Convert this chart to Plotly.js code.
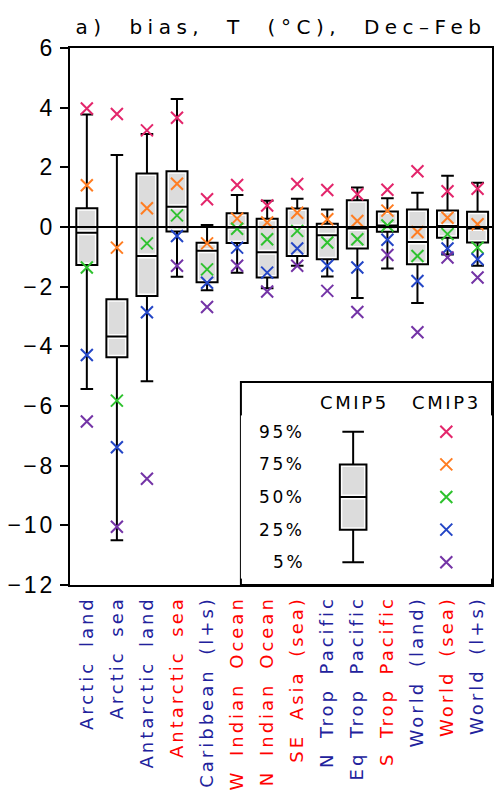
<!DOCTYPE html>
<html>
<head>
<meta charset="utf-8">
<script src="https://cdn.plot.ly/plotly-3.0.1.min.js"></script>
<style>
  html, body { margin: 0; padding: 0; background: #fff; }
  #chart { width: 497px; height: 793px; }
  svg text { letter-spacing: 2.6px; word-spacing: 5px; }
  svg .xtick text { letter-spacing: 3px; word-spacing: 5px; }
  svg .ytick text { letter-spacing: 3px; }
  svg .gtitle { letter-spacing: 5.5px; word-spacing: 11px; }
</style>
</head>
<body>
<div id="chart"></div>
<script>
// ---- Data ----
const categories = ["Arctic land", "Arctic sea", "Antarctic land", "Antarctic sea",
  "Caribbean (l+s)", "W Indian Ocean", "N Indian Ocean", "SE Asia (sea)",
  "N Trop Pacific", "Eq Trop Pacific", "S Trop Pacific", "World (land)",
  "World (sea)", "World (l+s)"];
const redLabel = [0, 0, 0, 1, 0, 1, 1, 1, 0, 0, 1, 0, 1, 0];

// CMIP5 percentiles (box and whiskers)
const cmip5_p95 = [3.77, 2.41, 3.12, 4.29, 0.07, 1.07, 0.88, 0.95, 0.59, 1.32, 0.96, 1.15, 1.72, 1.48];
const cmip5_p75 = [0.63, -2.42, 1.79, 1.87, -0.53, 0.46, 0.28, 0.62, 0.11, 0.90, 0.52, 0.59, 0.55, 0.51];
const cmip5_p50 = [-0.19, -3.67, -0.97, 0.68, -0.80, -0.02, -0.85, 0.00, -0.28, -0.05, 0.05, -0.50, 0.03, -0.05];
const cmip5_p25 = [-1.27, -4.37, -2.31, -0.15, -1.85, -0.54, -1.69, -0.97, -1.08, -0.72, -0.16, -1.25, -0.36, -0.52];
const cmip5_p5  = [-5.43, -10.50, -5.17, -1.67, -2.12, -1.53, -2.05, -1.30, -1.66, -2.38, -1.39, -2.55, -0.92, -1.30];

// CMIP3 percentiles (crosses)
const cmip3_p95 = [3.97, 3.79, 3.24, 3.66, 0.93, 1.41, 0.72, 1.44, 1.24, 1.10, 1.25, 1.87, 1.20, 1.28];
const cmip3_p75 = [1.40, -0.69, 0.63, 1.45, -0.55, 0.28, 0.15, 0.48, 0.26, 0.20, 0.55, -0.17, 0.31, 0.09];
const cmip3_p50 = [-1.36, -5.82, -0.55, 0.39, -1.42, -0.06, -0.41, -0.13, -0.52, -0.41, 0.05, -0.97, -0.24, -0.69];
const cmip3_p25 = [-4.29, -7.38, -2.86, -0.30, -1.87, -0.69, -1.53, -0.72, -1.30, -1.36, -0.43, -1.81, -0.72, -1.08];
const cmip3_p5  = [-6.52, -10.05, -8.44, -1.30, -2.68, -1.30, -2.16, -1.30, -2.14, -2.85, -0.94, -3.53, -1.02, -1.69];

const yTicks = [-12, -10, -8, -6, -4, -2, 0, 2, 4, 6];
const legendLevels = ["95%", "75%", "50%", "25%", "5%"];
const legendRows = [4, 3, 2, 1, 0];

// ---- Styles ----
const FONT = "DejaVu Sans";
const levelColors = ["#e3266b", "#ff7d22", "#2fc22f", "#2446c6", "#7434a6"];
const BLUE_LABEL = "#21219c", RED_LABEL = "#ff0000";
const BOX_W = 0.7;
const MARK_SIZE = 12;

const xIdx = categories.map((_, i) => i);
const tickText = categories.map((c, i) =>
  `<span style="color:${redLabel[i] ? RED_LABEL : BLUE_LABEL}">${c}</span>`);

const traces = [];
// grey inner fill (with white rim), drawn first
traces.push({
  type: "box", x: xIdx, q1: cmip5_p25, median: cmip5_p50, q3: cmip5_p75,
  lowerfence: cmip5_p25, upperfence: cmip5_p75, width: BOX_W, whiskerwidth: 0,
  line: { color: "#ffffff", width: 5 }, fillcolor: "#dcdcdc",
  boxpoints: false, hoverinfo: "skip", showlegend: false
});
// black outline + whiskers
traces.push({
  type: "box", x: xIdx, q1: cmip5_p25, median: cmip5_p50, q3: cmip5_p75,
  lowerfence: cmip5_p5, upperfence: cmip5_p95, width: BOX_W, whiskerwidth: 0.6,
  line: { color: "#000000", width: 2 }, fillcolor: "rgba(0,0,0,0)",
  boxpoints: false, hoverinfo: "skip", showlegend: false
});
const cmip3 = [cmip3_p95, cmip3_p75, cmip3_p50, cmip3_p25, cmip3_p5];
cmip3.forEach((vals, k) => {
  traces.push({
    type: "scatter", mode: "markers", x: xIdx, y: vals,
    marker: { symbol: "x-thin-open", size: MARK_SIZE, line: { width: 2, color: levelColors[k] }, color: levelColors[k] },
    hoverinfo: "skip", showlegend: false
  });
});

// ---- Inset key (own small axes) ----
const KEY_BOX_X = 0.447, KEY_MARK_X = 0.818;
const keyStats = { q1: [legendRows[3]], median: [legendRows[2]], q3: [legendRows[1]], lf: [legendRows[4]], uf: [legendRows[0]] };
traces.push({
  type: "box", x: [KEY_BOX_X], q1: keyStats.q1, median: keyStats.median, q3: keyStats.q3,
  lowerfence: keyStats.q1, upperfence: keyStats.q3, width: 0.106, whiskerwidth: 0,
  line: { color: "#ffffff", width: 5 }, fillcolor: "#dcdcdc",
  xaxis: "x2", yaxis: "y2", boxpoints: false, hoverinfo: "skip", showlegend: false
});
traces.push({
  type: "box", x: [KEY_BOX_X], q1: keyStats.q1, median: keyStats.median, q3: keyStats.q3,
  lowerfence: keyStats.lf, upperfence: keyStats.uf, width: 0.106, whiskerwidth: 0.81,
  line: { color: "#000000", width: 2 }, fillcolor: "rgba(0,0,0,0)",
  xaxis: "x2", yaxis: "y2", boxpoints: false, hoverinfo: "skip", showlegend: false
});
traces.push({
  type: "scatter", mode: "markers", x: legendRows.map(() => KEY_MARK_X), y: legendRows,
  marker: { symbol: "x-thin-open", size: MARK_SIZE, line: { width: 2, color: levelColors }, color: levelColors },
  xaxis: "x2", yaxis: "y2", hoverinfo: "skip", showlegend: false
});

const annotations = legendLevels.map((t, k) => ({
  text: t, xref: "x2", yref: "y2", x: 0.263, y: legendRows[k],
  xanchor: "right", yanchor: "middle", showarrow: false,
  font: { family: FONT, size: 17, color: "#000" }
}));
annotations.push({ text: "CMIP5", xref: "paper", yref: "paper", x: 0.675, y: 0.339,
  xanchor: "center", yanchor: "middle", showarrow: false, font: { family: FONT, size: 18, color: "#000" } });
annotations.push({ text: "CMIP3", xref: "paper", yref: "paper", x: 0.893, y: 0.339,
  xanchor: "center", yanchor: "middle", showarrow: false, font: { family: FONT, size: 18, color: "#000" } });

const layout = {
  width: 497, height: 793,
  margin: { l: 70, r: 5, t: 48, b: 208 },
  paper_bgcolor: "#fff", plot_bgcolor: "#fff",
  showlegend: false,
  boxmode: "overlay",
  title: {
    text: "a) bias, T (°C), Dec–Feb",
    x: 0.5, xref: "paper", xanchor: "center",
    y: 1 - 27 / 793, yref: "container", yanchor: "middle",
    font: { family: FONT, size: 20, color: "#000" }
  },
  xaxis: {
    range: [-0.56, 13.48], tickmode: "array", tickvals: xIdx, ticktext: tickText,
    tickangle: -90, ticks: "", showgrid: false, zeroline: false,
    showline: true, linecolor: "#000", linewidth: 2, mirror: true,
    ticklabelstandoff: 2,
    tickfont: { family: FONT, size: 18 }
  },
  yaxis: {
    range: [-12, 6], tickmode: "array", tickvals: yTicks,
    ticks: "outside", ticklen: 8, tickwidth: 2, tickcolor: "#000",
    showgrid: false, zeroline: false,
    showline: true, linecolor: "#000", linewidth: 2, mirror: true,
    tickfont: { family: "Liberation Sans", size: 23, color: "#000" }
  },
  xaxis2: { domain: [0.405, 1], range: [0, 1], visible: false, anchor: "y2", fixedrange: true },
  yaxis2: { domain: [0.0119, 0.3158], range: [-0.5, 4.5], visible: false, anchor: "x2", fixedrange: true },
  shapes: [
    { type: "rect", xref: "paper", yref: "paper", x0: 0.405, x1: 1, y0: 0, y1: 0.378,
      line: { color: "#000", width: 2 }, fillcolor: "#fff", layer: "below" },
    { type: "line", xref: "paper", yref: "y", x0: 0, x1: 1, y0: 0, y1: 0,
      line: { color: "#000", width: 2 }, layer: "above" }
  ],
  annotations: annotations
};

Plotly.newPlot("chart", traces, layout, { staticPlot: true, displayModeBar: false });
</script>
</body>
</html>
